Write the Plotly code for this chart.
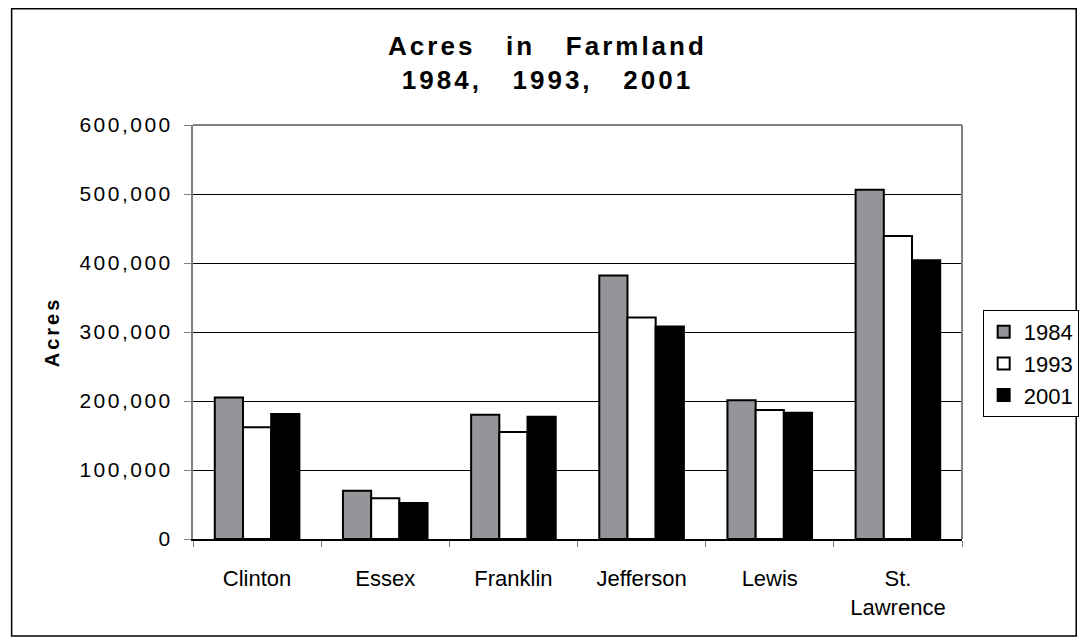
import plotly.graph_objects as go

# --- dados ---
condados = ["Clinton", "Essex", "Franklin", "Jefferson", "Lewis", "St.<br>Lawrence"]
anos = ["1984", "1993", "2001"]
acres_1984 = [205000, 70000, 180000, 382000, 201000, 506000]
acres_1993 = [162000, 59000, 155000, 321000, 187000, 439000]
acres_2001 = [181000, 52000, 177000, 308000, 183000, 404000]
y_ticks = [0, 100000, 200000, 300000, 400000, 500000, 600000]

series = [acres_1984, acres_1993, acres_2001]
cores = ["#939598", "#ffffff", "#000000"]

# a página tem margem de 8px no body: a figura ocupa o resto da janela
OFF = 8
W, H = 1091 - OFF, 643 - OFF
# área de plotagem em pixels da janela: x 193..974, y 125..539
ML, MR = 193 - OFF, 1091 - 974
MT, MB = 125 - OFF, 643 - 539
FONTE = "Liberation Sans, Arial, sans-serif"

fig = go.Figure()
for ano, vals, cor in zip(anos, series, cores):
    fig.add_trace(go.Bar(
        x=condados, y=vals, name=ano,
        marker=dict(color=cor, line=dict(color="#000000", width=2)),
    ))

pw, ph = W - ML - MR, H - MT - MB
def px(x):  # pixel da janela -> fração (paper)
    return (x - OFF - ML) / pw
def py(y):
    return (H - MB - (y - OFF)) / ph

# moldura externa
fig.add_shape(type="rect", xref="paper", yref="paper",
              x0=px(8.8), x1=px(1090), y0=py(636), y1=py(8.8),
              line=dict(color="#000000", width=1.5), fillcolor="rgba(0,0,0,0)")
# borda superior/direita da área de plotagem (cinza)
fig.add_shape(type="line", xref="paper", yref="paper", x0=0, x1=1, y0=1, y1=1,
              line=dict(color="#808080", width=2))
fig.add_shape(type="line", xref="paper", yref="paper", x0=1, x1=1, y0=0, y1=1,
              line=dict(color="#808080", width=2))

fig.update_layout(
    width=W, height=H,
    margin=dict(l=ML, r=MR, t=MT, b=MB),
    paper_bgcolor="white", plot_bgcolor="white",
    font=dict(family=FONTE, color="#000000"),
    title=dict(
        text="<b>Acres&nbsp;&nbsp;&nbsp;in&nbsp;&nbsp;&nbsp;Farmland<br>1984,&nbsp;&nbsp;&nbsp;1993,&nbsp;&nbsp;&nbsp;2001</b>",
        x=px(553), xanchor="center", xref="paper",
        y=1 - 47 / H, yanchor="middle",
        font=dict(size=26, family=FONTE),
    ),
    barmode="group", bargap=0.34, bargroupgap=0,
    showlegend=True,
    legend=dict(
        x=px(995), y=py(310), xanchor="left", yanchor="top",
        bordercolor="#000000", borderwidth=1, bgcolor="white",
        font=dict(size=22, family=FONTE),
        traceorder="normal", itemwidth=30,
    ),
    xaxis=dict(
        tickson="boundaries", ticks="outside", ticklen=6, tickcolor="#808080",
        showline=True, linecolor="#000000", linewidth=2,
        tickfont=dict(size=22), ticklabelstandoff=19,
        showgrid=False,
    ),
    yaxis=dict(
        range=[0, 600000], tickvals=y_ticks, tickformat=",",
        ticks="outside", ticklen=7, tickcolor="#808080",
        showline=True, linecolor="#808080", linewidth=2,
        showgrid=True, gridcolor="#000000", gridwidth=1,
        zeroline=False,
        tickfont=dict(size=21), ticklabelstandoff=7,
        title=dict(text="<b>Acres</b>", font=dict(size=20), standoff=32),
    ),
)

js = """
var gd = document.querySelector('.js-plotly-plot');
function esp(sel, v){ gd.querySelectorAll(sel).forEach(function(t){ t.style.letterSpacing = v; }); }
esp('.gtitle', '3px');
esp('.ytick text', '2.5px');
esp('.ytitle', '3px');
"""
fig.write_html("out.html", post_script=js)
